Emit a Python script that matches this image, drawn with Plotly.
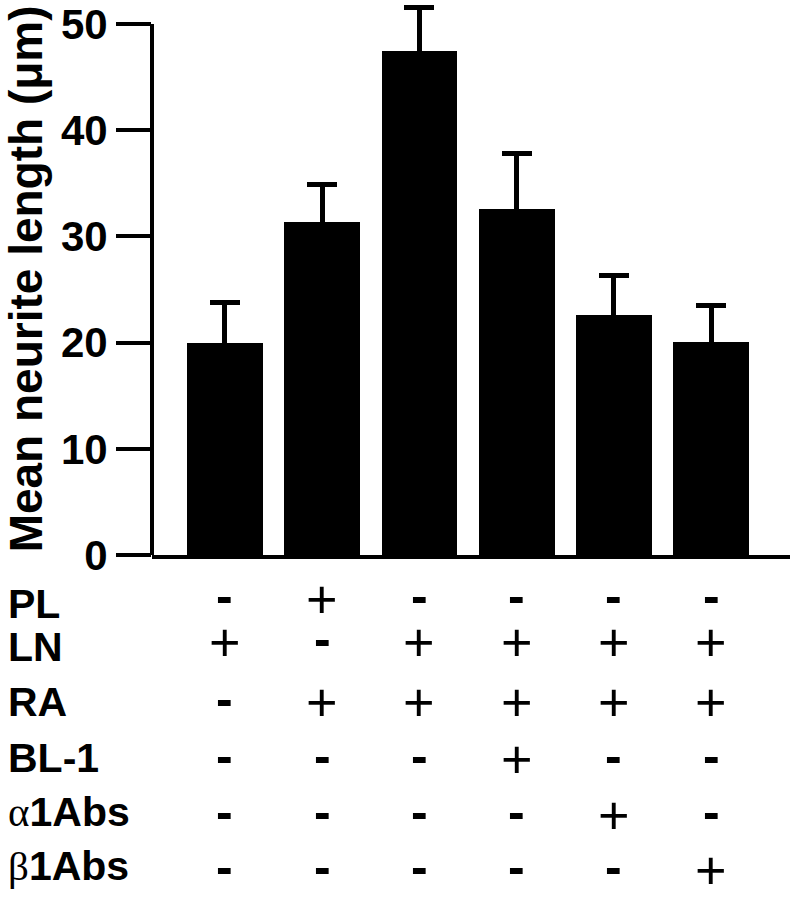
import plotly.graph_objects as go

# bar values (mean neurite length, um) and upper error
mean_length = [20.0, 31.4, 47.5, 32.6, 22.6, 20.1]
error_up = [3.8, 3.5, 4.1, 5.2, 3.7, 3.4]
y_ticks = [0, 10, 20, 30, 40, 50]

# treatment table under the bars
row_labels = ["PL", "LN", "RA", "BL-1", "α1Abs", "β1Abs"]
PL = ["-", "+", "-", "-", "-", "-"]
LN = ["+", "-", "+", "+", "+", "+"]
RA = ["-", "+", "+", "+", "+", "+"]
BL1 = ["-", "-", "-", "+", "-", "-"]
A1ABS = ["-", "-", "-", "-", "+", "-"]
B1ABS = ["-", "-", "-", "-", "-", "+"]
table_rows = [PL, LN, RA, BL1, A1ABS, B1ABS]

W, H = 794, 899
L, R = 152, 790          # plot area edges in pixels
FONT = "Liberation Sans, Arial, sans-serif"
xpos = list(range(len(mean_length)))

fig = go.Figure()
fig.add_trace(go.Bar(
    x=xpos,
    y=mean_length,
    width=0.78,
    marker=dict(color="black", line=dict(width=0)),
    error_y=dict(type="data", array=error_up, symmetric=True,
                 color="black", thickness=5, width=15),
    showlegend=False,
))

# y axis line only goes up to 50
fig.add_shape(type="line", xref="paper", yref="y", x0=0, x1=0, y0=0, y1=50,
              line=dict(color="black", width=4))

# row labels and +/- signs (pixel centres of each row)
row_px = [604, 647, 702, 758, 812, 866]
sign_px = [596, 639, 699, 756, 812, 867]
for label, signs, py, sy in zip(row_labels, table_rows, row_px, sign_px):
    if label[0] in "αβ":
        text = ("<span style=\"font-family:'Liberation Serif';font-weight:normal\">"
                + label[0] + "</span>" + label[1:])
    else:
        text = label
    fig.add_annotation(text=text, xref="paper", yref="paper",
                       x=(6 - L) / (R - L), y=1 - py / H,
                       xanchor="left", yanchor="middle", showarrow=False,
                       font=dict(family=FONT, size=41, color="black", weight="bold"))
    for xi, s in zip(xpos, signs):
        if s == "+":
            f = dict(family=FONT, size=54, color="black")
            shift = -3
        else:
            f = dict(family=FONT, size=50, color="black", weight="bold")
            shift = 0
        fig.add_annotation(text=s, xref="x", yref="paper", x=xi, y=1 - sy / H,
                           yshift=shift, xanchor="center", yanchor="middle",
                           showarrow=False, font=f)

fig.update_layout(
    width=W, height=H,
    margin=dict(l=L, r=W - R, t=0, b=0, autoexpand=False),
    paper_bgcolor="white", plot_bgcolor="white",
    font=dict(family=FONT, color="black"),
    bargap=0,
    xaxis=dict(range=[-0.75, 5.81], showline=True, linewidth=4, linecolor="black",
               showticklabels=False, ticks="", showgrid=False, zeroline=False,
               automargin=False),
    yaxis=dict(range=[0, 52], domain=[1 - 555 / H, 1 - 2.8 / H],
               tickvals=y_ticks, ticks="outside", ticklen=35, tickwidth=4,
               tickcolor="black", showline=False, showgrid=False, zeroline=False,
               automargin=False,
               tickfont=dict(family=FONT, size=42, color="black", weight="bold"),
               title=dict(text="Mean neurite length (μm)", standoff=8,
                          font=dict(family=FONT, size=46, color="black", weight="bold"))),
)

# drop the browser's default page margin so the figure sits at the window corner
fig.write_html("out.html", config={"displayModeBar": False},
               post_script="document.body.style.margin='0';")
